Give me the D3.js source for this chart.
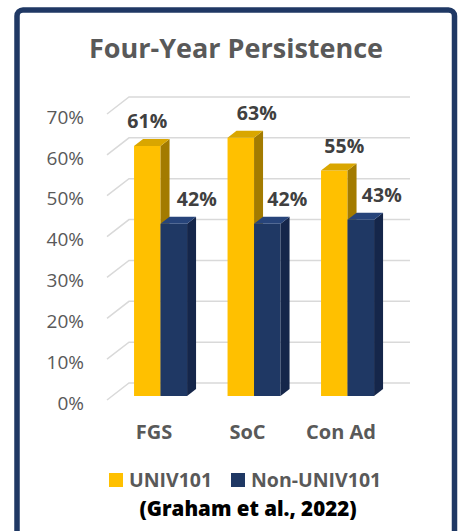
<!DOCTYPE html>
<html>
<head>
<meta charset="utf-8">
<script src="https://cdn.jsdelivr.net/npm/d3@7"></script>
<style>
  body { margin: 0; background: #fff; }
  svg { display: block; font-family: "Open Sans", sans-serif; }
</style>
</head>
<body>
<div id="chart"></div>
<script>
var categories = ["FGS", "SoC", "Con Ad"];
var seriesNames = ["UNIV101", "Non-UNIV101"];
var univ101 = [0.61, 0.63, 0.55];
var nonUniv101 = [0.42, 0.42, 0.43];
var yTicks = [0, 0.1, 0.2, 0.3, 0.4, 0.5, 0.6, 0.7];

/* label nudges (Excel labels were moved by hand) */
var labelNudge = [[0, 16, 10], [23, 20, 21]];

var W = 458, H = 531;
var depth = {dx: 9, dy: -7},
    wall = {dx: 22, dy: -17};

var svg = d3.select("#chart").append("svg")
    .attr("width", W)
    .attr("height", H);

svg.append("rect")
    .attr("x", 17).attr("y", 10)
    .attr("width", 437.5).attr("height", 600)
    .attr("rx", 6)
    .attr("fill", "#fff")
    .attr("stroke", "#1F3864")
    .attr("stroke-width", 5.5);

svg.append("text")
    .attr("x", 236).attr("y", 58)
    .attr("text-anchor", "middle")
    .attr("font-size", 27).attr("font-weight", 700)
    .attr("fill", "#595959")
    .text("Four-Year Persistence");

/* back wall scale and front face scale */
var yBack = d3.scaleLinear().domain([0, 0.7]).range([383, 97]),
    yFront = d3.scaleLinear().domain([0, 0.7]).range([396, 396 - 0.7 * 410]);

var x = d3.scaleBand().domain(categories)
    .range([113.8, 394.3])
    .paddingInner(0.433).paddingOuter(0.2165);
var xs = d3.scaleBand().domain(seriesNames).range([0, x.bandwidth()]);

var grid = svg.append("g").attr("class", "grid");
grid.selectAll("path").data(yTicks).enter().append("path")
    .attr("d", function(d) {
      var yb = yBack(d);
      return "M" + (129 - wall.dx) + "," + (yb - wall.dy) + "L129," + yb + "L410," + yb;
    })
    .attr("fill", "none")
    .attr("stroke", "#D9D9D9")
    .attr("stroke-width", 1.5);

svg.append("g").selectAll("text").data(yTicks).enter().append("text")
    .attr("x", 84)
    .attr("y", function(d) { return yBack(d) - wall.dy + 3; })
    .attr("dy", "0.35em")
    .attr("text-anchor", "end")
    .attr("font-size", 19)
    .attr("fill", "#595959")
    .text(function(d) { return d3.format(".0%")(d); });

var styles = [
  {front: "#FFC000", top: "#D9A600", side: "#A37B00"},
  {front: "#1F3864", top: "#27447A", side: "#15264A"}
];
var series = [univ101, nonUniv101];

var bars = svg.append("g");
categories.forEach(function(c, i) {
  series.forEach(function(vals, s) {
    var x0 = x(c) + xs(seriesNames[s]),
        x1 = x0 + xs.bandwidth(),
        yt = yFront(vals[i]),
        yb = yFront(0),
        st = styles[s];
    var g = bars.append("g");
    g.append("rect")
        .attr("x", x0).attr("y", yt)
        .attr("width", x1 - x0).attr("height", yb - yt)
        .attr("fill", st.front);
    g.append("path")
        .attr("d", "M" + x1 + "," + yt + "L" + (x1 + depth.dx) + "," + (yt + depth.dy) +
              "L" + (x1 + depth.dx) + "," + (yb + depth.dy) + "L" + x1 + "," + yb + "Z")
        .attr("fill", st.side);
    g.append("path")
        .attr("d", "M" + x0 + "," + yt + "L" + x1 + "," + yt +
              "L" + (x1 + depth.dx) + "," + (yt + depth.dy) +
              "L" + (x0 + depth.dx) + "," + (yt + depth.dy) + "Z")
        .attr("fill", st.top);
  });
});

var labels = svg.append("g");
categories.forEach(function(c, i) {
  series.forEach(function(vals, s) {
    var cx = x(c) + xs(seriesNames[s]) + xs.bandwidth() / 2;
    labels.append("text")
        .attr("x", cx + labelNudge[s][i])
        .attr("y", yFront(vals[i]) - 18)
        .attr("text-anchor", "middle")
        .attr("font-size", 19.5).attr("font-weight", 700)
        .attr("fill", "#404040")
        .text(d3.format(".0%")(vals[i]));
  });
});

svg.append("g").selectAll("text").data(categories).enter().append("text")
    .attr("x", function(d) { return x(d) + x.bandwidth() / 2 - 6.5; })
    .attr("y", 439)
    .attr("text-anchor", "middle")
    .attr("font-size", 20).attr("font-weight", 700)
    .attr("fill", "#595959")
    .text(function(d) { return d; });

var legendX = [109, 231];
var legend = svg.append("g");
seriesNames.forEach(function(n, s) {
  legend.append("rect")
      .attr("x", legendX[s]).attr("y", 473)
      .attr("width", 14).attr("height", 14)
      .attr("fill", styles[s].front);
  legend.append("text")
      .attr("x", legendX[s] + 20).attr("y", 487)
      .attr("font-size", 19.5).attr("font-weight", 700)
      .attr("fill", "#595959")
      .text(n);
});

svg.append("text")
    .attr("x", 248).attr("y", 516)
    .attr("text-anchor", "middle")
    .attr("font-size", 20.5).attr("font-weight", 800)
    .attr("fill", "#000")
    .text("(Graham et al., 2022)");
</script>
</body>
</html>
